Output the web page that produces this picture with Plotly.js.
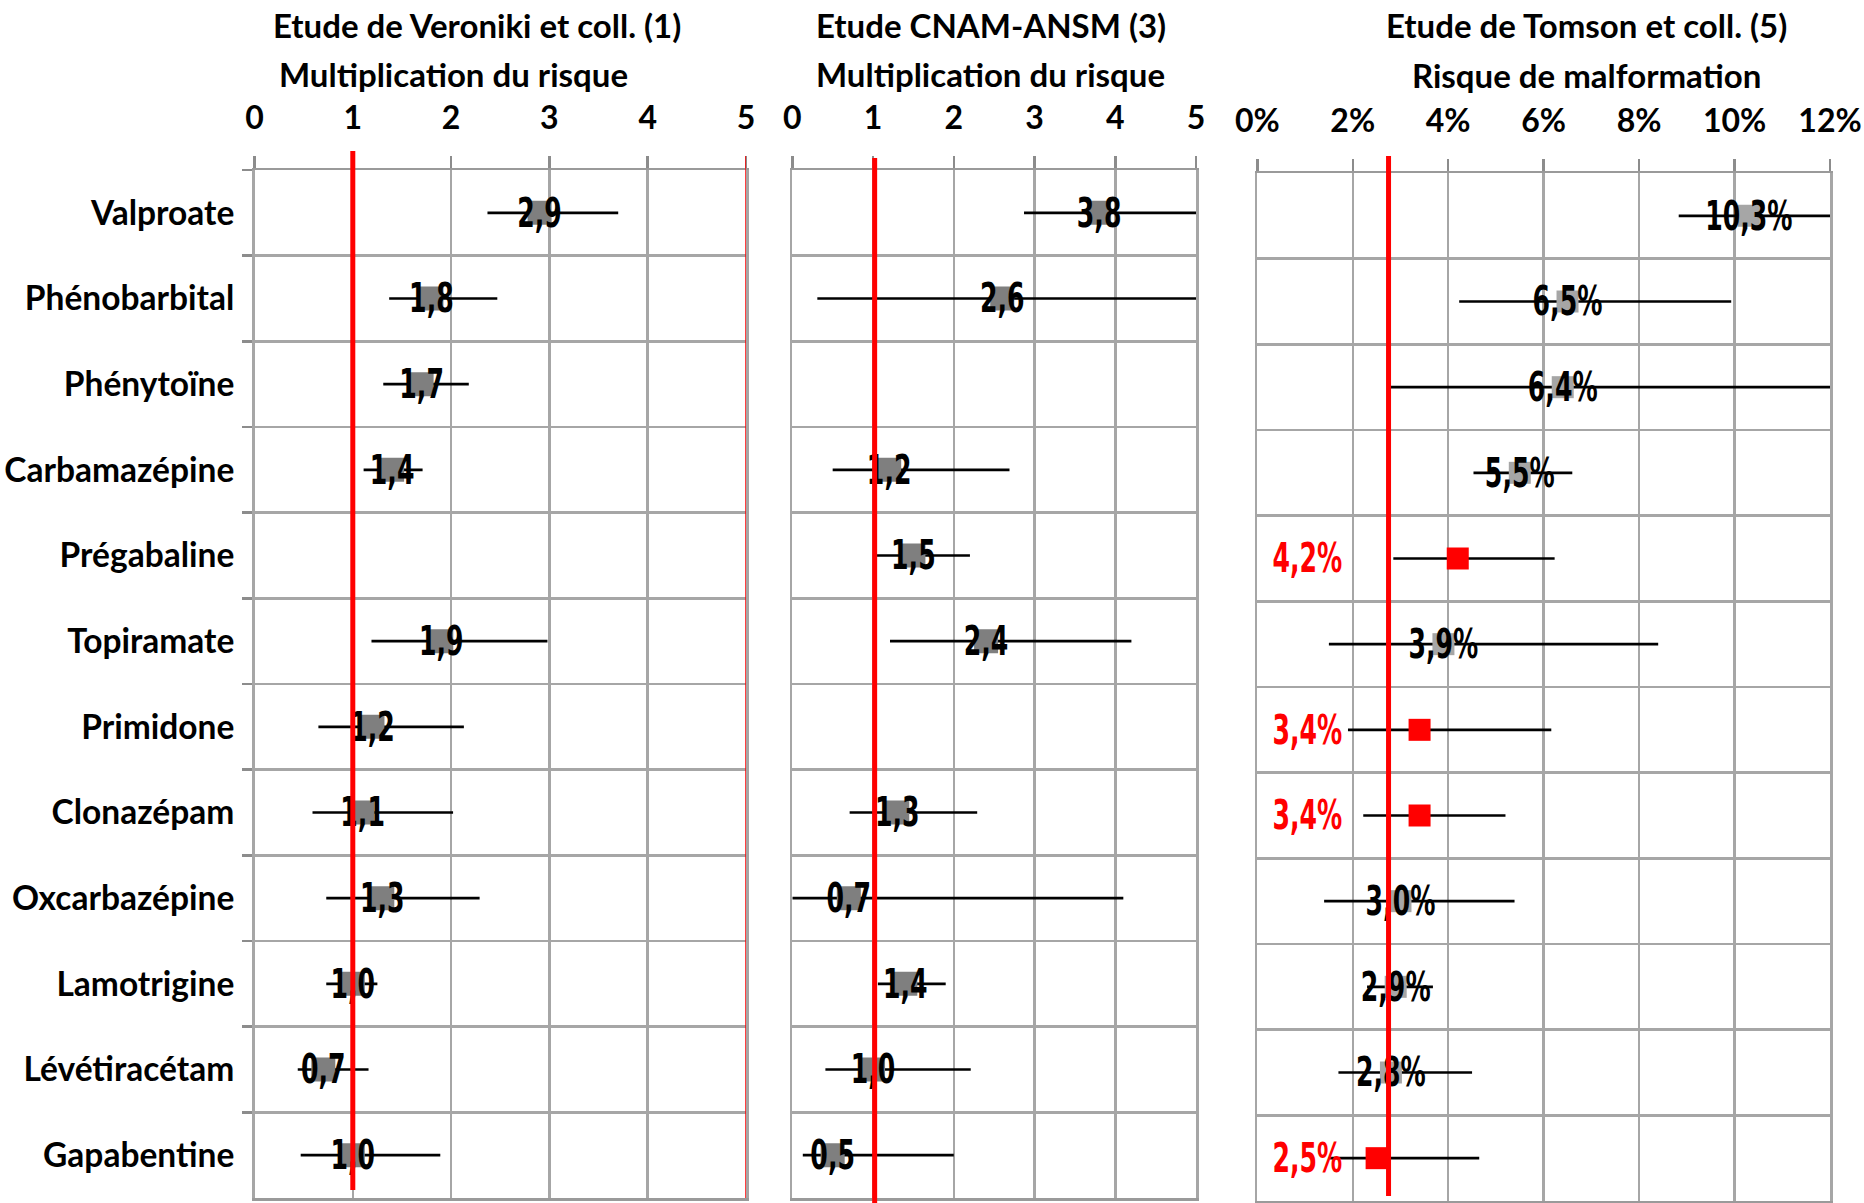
<!DOCTYPE html>
<html>
<head>
<meta charset="utf-8">
<script src="https://cdn.plot.ly/plotly-3.0.1.min.js"></script>
<style>html,body{margin:0;padding:0;background:#fff;}#chart{width:1864px;height:1203px;}</style>
</head>
<body>
<div id="chart"></div>
<script>
// ---------- DATA ----------
const categories = ['Valproate','Phénobarbital','Phénytoïne','Carbamazépine','Prégabaline','Topiramate','Primidone','Clonazépam','Oxcarbazépine','Lamotrigine','Lévétiracétam','Gapabentine'];

// Etude de Veroniki et coll. (1) — multiplication du risque
const veronikiValue = [2.9, 1.8, 1.7, 1.4, null, 1.9, 1.2, 1.1, 1.3, 1.0, 0.7, 1.0];
const veronikiLow   = [2.37, 1.37, 1.31, 1.11, null, 1.19, 0.65, 0.59, 0.73, 0.73, 0.44, 0.47];
const veronikiHigh  = [3.70, 2.47, 2.18, 1.71, null, 2.98, 2.13, 2.02, 2.29, 1.25, 1.16, 1.89];

// Etude CNAM-ANSM (3) — multiplication du risque
const cnamValue = [3.8, 2.6, null, 1.2, 1.5, 2.4, null, 1.3, 0.7, 1.4, 1.0, 0.5];
const cnamLow   = [2.87, 0.31, null, 0.50, 1.04, 1.21, null, 0.71, 0.0, 1.06, 0.41, 0.13];
const cnamHigh  = [5.0, 5.0, null, 2.69, 2.20, 4.20, null, 2.29, 4.10, 1.90, 2.21, 2.00];

// Etude de Tomson et coll. (5) — risque de malformation (%)
const tomsonValue = [10.3, 6.5, 6.4, 5.5, 4.2, 3.9, 3.4, 3.4, 3.0, 2.9, 2.8, 2.5];
const tomsonLow   = [8.83, 4.23, 2.80, 4.53, 2.85, 1.50, 1.90, 2.22, 1.40, 2.30, 1.70, 1.50];
const tomsonHigh  = [12.0, 9.93, 12.0, 6.60, 6.23, 8.40, 6.16, 5.20, 5.39, 3.68, 4.50, 4.65];
const tomsonHighlight = [false, false, false, false, true, false, true, true, false, false, false, true];

// reference lines
const refVeroniki = 1.0;
const refCnam = 1.02;
const refTomson = 2.75;

// axis ticks
const riskTicks = [0, 1, 2, 3, 4, 5];
const pctTicks = [0, 2, 4, 6, 8, 10, 12];

// ---------- STYLE / LAYOUT HELPERS ----------
const W = 1864, H = 1203, MT = 170, MB = 2;
const py = p => (H - MB - p) / (H - MT - MB);
const px = p => p / W;

const BASE = 'Lato, "Open Sans", sans-serif';
const TITLE_FONT = {family: BASE, size: 33, color: '#000', weight: 700};
const TICK_FONT = {family: BASE, size: 32, color: '#000', weight: 700};
const CAT_FONT = {family: BASE, size: 33.5, color: '#000', weight: 700};
const LABEL_FONT_FAMILY = '"Liberation Sans Narrow", "Arial Narrow", "DejaVu Sans Condensed", Lato, sans-serif';
const GRID = '#a6a6a6', AXLINE = '#9a9a9a', TICKC = '#8c8c8c';

const fmt = (v, suffix) => v.toFixed(1).replace('.', ',') + (suffix || '');

function ciTrace(values, low, high, xa, ya, colors, size) {
  return {
    type: 'scatter', mode: 'markers', x: values, y: categories, xaxis: xa, yaxis: ya,
    marker: {symbol: 'square', color: colors, size: size, line: {width: 0}, opacity: 1},
    error_x: {
      type: 'data', symmetric: false,
      array: values.map((v, i) => v == null ? null : high[i] - v),
      arrayminus: values.map((v, i) => v == null ? null : v - low[i]),
      color: '#000', thickness: 2.6, width: 0
    },
    hoverinfo: 'skip', showlegend: false
  };
}
function labelTrace(xs, ys, texts, colors, xa, ya) {
  return {
    type: 'scatter', mode: 'text', x: xs, y: ys, text: texts, xaxis: xa, yaxis: ya,
    textposition: 'middle center', cliponaxis: false,
    textfont: {family: LABEL_FONT_FAMILY, size: 40, color: colors, weight: 700},
    hoverinfo: 'skip', showlegend: false
  };
}

// panel 1
const t1 = ciTrace(veronikiValue, veronikiLow, veronikiHigh, 'x', 'y', '#7f7f7f', 24);
const l1 = labelTrace(veronikiValue, categories, veronikiValue.map(v => v == null ? '' : fmt(v)), '#000', 'x', 'y');
// panel 2
const t2 = ciTrace(cnamValue, cnamLow, cnamHigh, 'x2', 'y2', '#7f7f7f', 24);
const l2 = labelTrace(cnamValue, categories, cnamValue.map(v => v == null ? '' : fmt(v)), '#000', 'x2', 'y2');
// panel 3
const redLabelX = 1.05;
const t3 = ciTrace(tomsonValue, tomsonLow, tomsonHigh, 'x3', 'y3',
  tomsonHighlight.map(h => h ? '#ff0000' : '#a6a6a6'), 22);
const l3 = labelTrace(
  tomsonValue.map((v, i) => tomsonHighlight[i] ? redLabelX : v), categories,
  tomsonValue.map(v => fmt(v, '%')),
  tomsonHighlight.map(h => h ? '#ff0000' : '#000'), 'x3', 'y3');

function xAxis(domain, anchor, range, ticks, suffix) {
  return {
    domain: domain, anchor: anchor, side: 'top', range: range,
    tickvals: ticks, ticktext: ticks.map(t => t + (suffix || '')),
    showgrid: true, gridcolor: GRID, gridwidth: 2.5, zeroline: false,
    showline: true, mirror: true, linecolor: AXLINE, linewidth: 2.5,
    ticks: 'outside', ticklen: 12, tickwidth: 2.5, tickcolor: TICKC,
    tickfont: TICK_FONT, ticklabelstandoff: 14, fixedrange: true
  };
}
function yAxis(domain, anchor, showLabels) {
  return {
    domain: domain, anchor: anchor, type: 'category', categoryorder: 'array', categoryarray: categories,
    range: [categories.length - 0.5, -0.5], autorange: false, tickson: 'boundaries',
    showgrid: true, gridcolor: GRID, gridwidth: 2.5,
    showline: true, mirror: true, linecolor: GRID, linewidth: 2.5,
    ticks: showLabels ? 'outside' : '', ticklen: 10, tickwidth: 2.5, tickcolor: TICKC,
    showticklabels: showLabels, tickfont: CAT_FONT, ticklabelstandoff: 11, fixedrange: true
  };
}

const dom1 = [px(254.5), px(746)], dom2 = [px(792.3), px(1196)], dom3 = [px(1257.3), px(1830)];
const ydom12 = [py(1198), 1], ydom3 = [0, py(173)];

function redLine(xref, xval, top, bottom, width) {
  return {type: 'line', layer: 'above', xref: xref, yref: 'paper', x0: xval, x1: xval,
          y0: py(bottom), y1: py(top), line: {color: '#ff0000', width: width}};
}

function title(text, cx, cy) {
  return {text: text, x: px(cx), y: py(cy), xref: 'paper', yref: 'paper',
          xanchor: 'center', yanchor: 'middle', showarrow: false, font: TITLE_FONT};
}

const layout = {
  width: W, height: H, margin: {l: 0, r: 0, t: MT, b: MB},
  paper_bgcolor: '#fff', plot_bgcolor: '#fff', showlegend: false,
  xaxis: xAxis(dom1, 'y', [0, 5], riskTicks),
  yaxis: yAxis(ydom12, 'x', true),
  xaxis2: xAxis(dom2, 'y2', [0, 5], riskTicks),
  yaxis2: yAxis(ydom12, 'x2', false),
  xaxis3: xAxis(dom3, 'y3', [0, 12], pctTicks, '%'),
  yaxis3: yAxis(ydom3, 'x3', false),
  shapes: [
    redLine('x', refVeroniki, 151, 1190, 5),
    redLine('x', 5, 156, 1198, 1.5),
    redLine('x2', refCnam, 158, 1203, 5),
    redLine('x3', refTomson, 156, 1196, 5)
  ],
  annotations: [
    title('Etude de Veroniki et coll. (1)', 477, 25),
    title('Multiplication du risque', 453, 74),
    title('Etude CNAM-ANSM (3)', 991, 25),
    title('Multiplication du risque', 990, 74),
    title('Etude de Tomson et coll. (5)', 1586, 25),
    title('Risque de malformation', 1586, 75)
  ]
};

Plotly.newPlot('chart', [t1, l1, t2, l2, t3, l3], layout, {displayModeBar: false, staticPlot: true})
  .then(gd => {
    // condensed look for the data labels (narrow bold style of the original), set slightly below the CI line
    gd.querySelectorAll('.textpoint text').forEach(t => {
      const x = parseFloat(t.getAttribute('x')) || 0;
      t.setAttribute('transform', `translate(${x},4) scale(0.7,1) translate(${-x},0)`);
    });
  });
</script>
</body>
</html>
